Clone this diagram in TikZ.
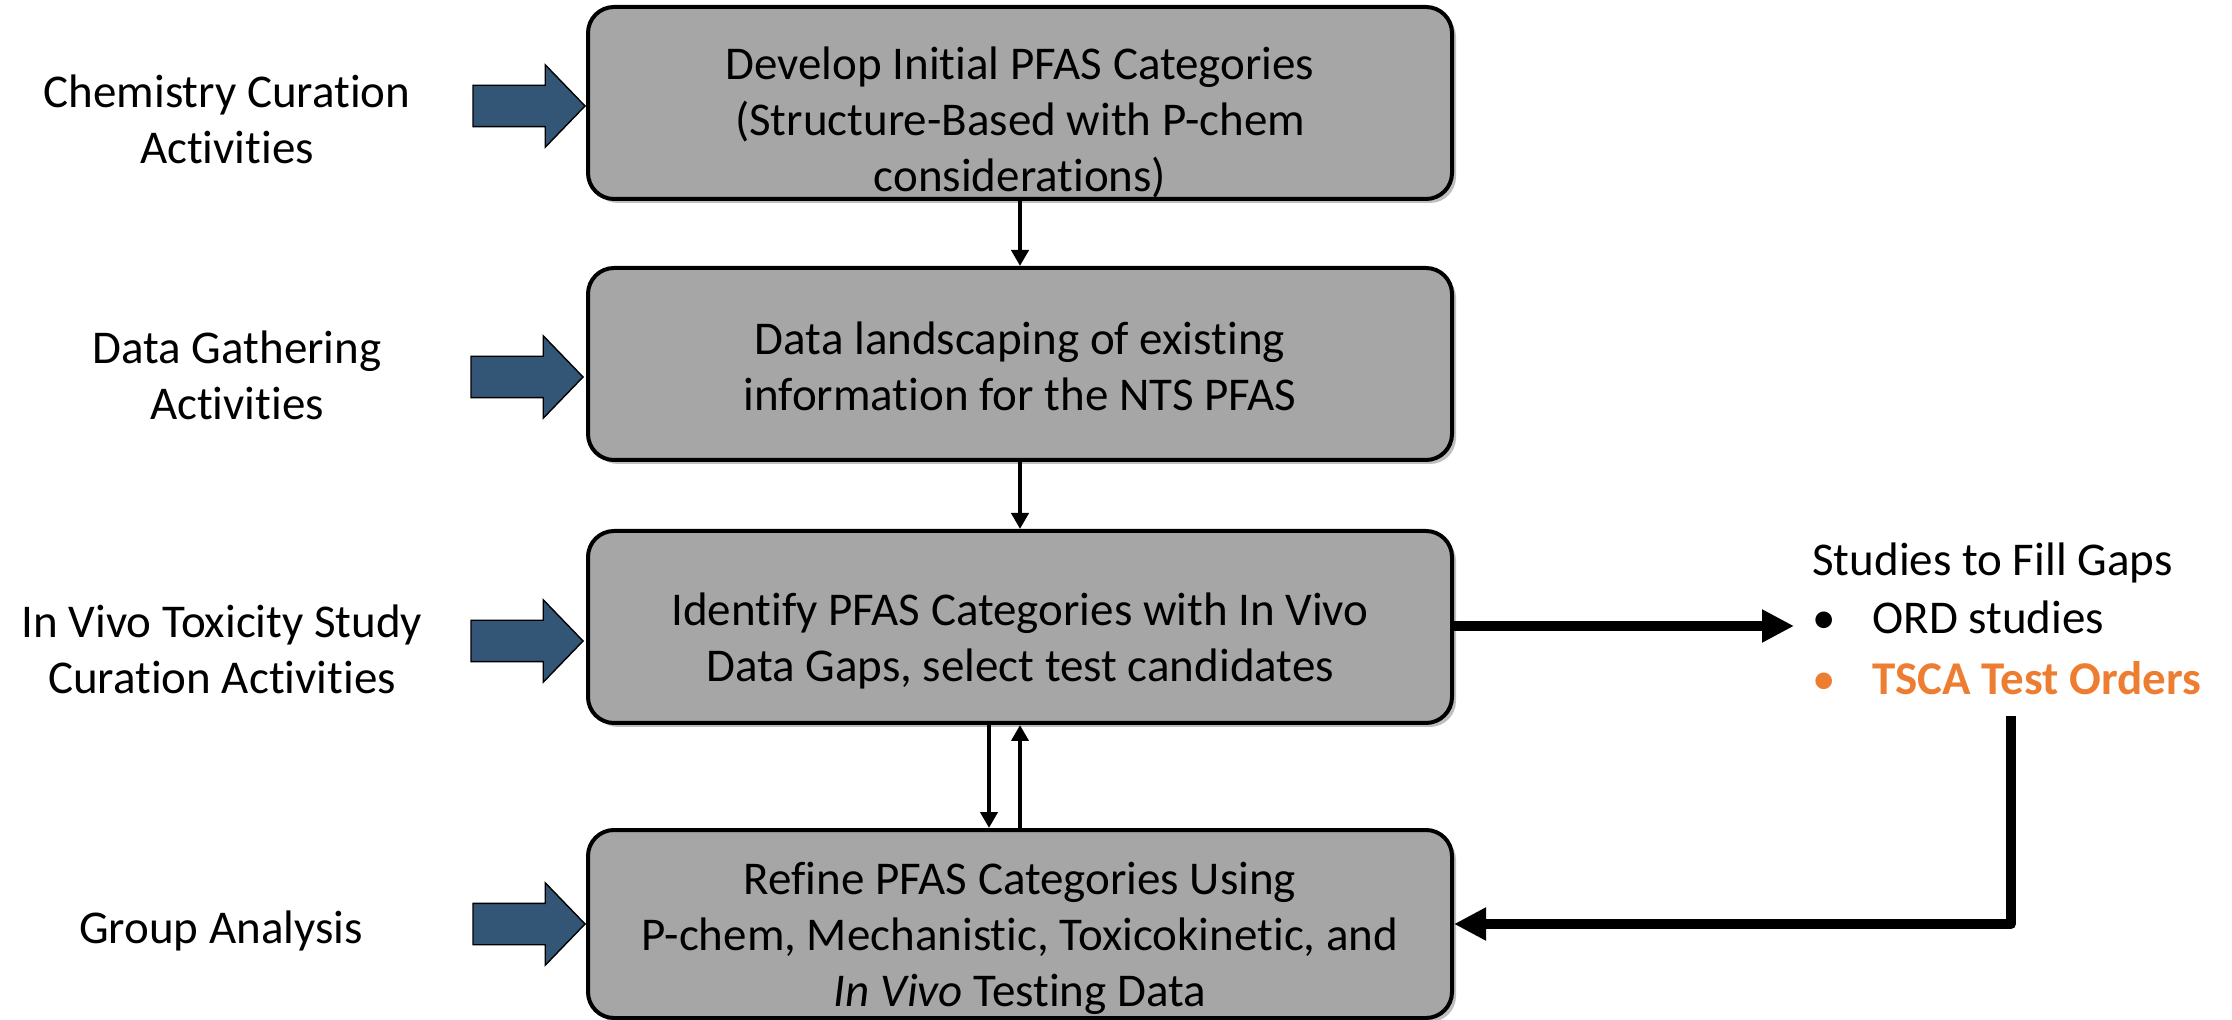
\documentclass[tikz,border=0pt]{standalone}
\usepackage{fontspec}
\setmainfont{Carlito}[RawFeature={-liga;-clig;-calt;-dlig}]
\usetikzlibrary{calc,arrows.meta,shapes.arrows,shadows}

\definecolor{boxgray}{RGB}{166,166,166}
\definecolor{feedblue}{RGB}{52,86,118}
\definecolor{tscaorange}{RGB}{237,125,49}

\begin{document}
\begin{tikzpicture}[x=0.5pt,y=-0.5pt,
  font=\fontsize{23.5}{28}\selectfont,
  stagebox/.style={draw=black, line width=2pt, fill=boxgray, rounded corners=13pt,
    minimum width=432pt, minimum height=96pt, inner sep=0pt,
    drop shadow={shadow xshift=2pt, shadow yshift=-2pt, opacity=0.25, fill=black}},
  stagetext/.style={align=center, inner sep=0pt},
  feedarrow/.style={single arrow, draw=black, line width=0.7pt, fill=feedblue,
    inner xsep=0pt, inner ysep=10pt, minimum height=56pt,
    single arrow head extend=10.25pt, single arrow tip angle=92, anchor=tip},
  sidelabel/.style={align=center, inner sep=0pt},
  thinflow/.style={-{Triangle[length=8pt,width=8.5pt]}, line width=2.3pt},
  thickflow/.style={-{Triangle[length=16pt,width=15.5pt]}, line width=5pt, line join=round},
]

% --- Fixed frame (pixel grid of the reference) ---
\useasboundingbox (0,0) rectangle (2232,1020);

% --- Geometry settings ---
\def\boxX{1020}   % centre line of the stage boxes
\def\lblX{225}    % centre line of the left-hand labels

% --- Stage boxes ---
\node[stagebox] (develop) at (\boxX,103) {};
\node[stagebox] (landscape) at (\boxX,364) {};
\node[stagebox] (identify) at (\boxX,627) {};
\node[stagebox, minimum height=94pt] (refine) at (\boxX,924) {};

\node[stagetext] (developtext) at ($(develop)+(0,19)$)
  {Develop Initial PFAS Categories\\(Structure-Based with P-chem\\considerations)};
\node[stagetext] (landscapetext) at ($(landscape)+(0,2)$)
  {Data landscaping of existing\\information for the NTS PFAS};
\node[stagetext] (identifytext) at ($(identify)+(0,14)$)
  {Identify PFAS Categories with In Vivo\\Data Gaps, select test candidates};
\node[stagetext] (refinetext) at ($(refine)+(0,14)$)
  {Refine PFAS Categories Using\\P-chem, Mechanistic, Toxicokinetic, and\\\textit{In Vivo} Testing Data};

% --- Activities feeding each stage ---
\node[sidelabel] (chem)  at (\lblX+2,119) {Chemistry Curation\\Activities};
\node[sidelabel] (gather) at (\lblX+12,375) {Data Gathering\\Activities};
\node[sidelabel] (invivo) at (\lblX-3,649) {In Vivo Toxicity Study\\Curation Activities};
\node[sidelabel] (group) at (\lblX-4,931) {Group Analysis};

\node[feedarrow] (chemarrow)   at ($(develop.west)+(0,3)$) {};
\node[feedarrow] (gatherarrow) at ($(landscape.west)+(-2,13)$) {};
\node[feedarrow] (invivoarrow) at ($(identify.west)+(-2,14)$) {};
\node[feedarrow] (grouparrow)  at (refine.west) {};

% --- Flow between stages ---
\draw[thinflow] (develop.south) -- (landscape.north);
\draw[thinflow] (landscape.south) -- (identify.north);
\draw[thinflow] ([xshift=-15.5pt]identify.south) -- ([xshift=-15.5pt]refine.north);
\draw[thinflow] (refine.north) -- (identify.south);

% --- Studies to fill the gaps ---
\node[anchor=mid west, inner sep=0pt] (gaps) at (1812,571) {Studies to Fill Gaps};
\node[anchor=mid west, inner sep=0pt] (ord) at (1812,629) {\makebox[30pt][l]{\textbullet}ORD studies};
\node[anchor=mid west, inner sep=0pt, text=tscaorange, font=\fontsize{23.5}{28}\selectfont\bfseries]
  (tsca) at (1812,690) {\makebox[30pt][l]{\mdseries\textbullet}TSCA Test Orders};
\coordinate (gapstip) at (1794,626);
\coordinate (ordersfoot) at (2011,716);

\draw[thickflow] (identify.east |- gapstip) -- (gapstip);
\draw[thickflow] (ordersfoot) |- (refine.east);

\end{tikzpicture}
\end{document}
